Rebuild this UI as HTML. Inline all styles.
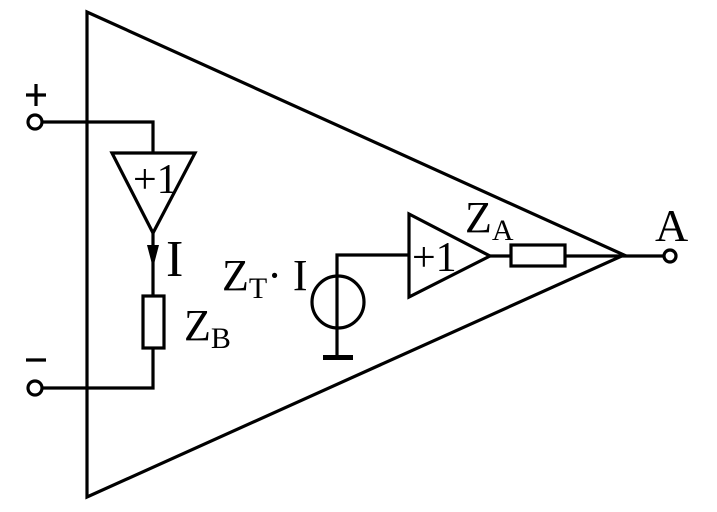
<!DOCTYPE html>
<html><head><style>body{margin:0;background:#fff}svg{display:block}</style></head><body>
<svg width="717" height="512" viewBox="0 0 717 512" xmlns="http://www.w3.org/2000/svg">
<g fill="none" stroke="#000" stroke-width="3.2">
<polygon points="87,12 87,497 624,255"/>
<circle cx="35" cy="122" r="7" fill="#fff"/>
<circle cx="35" cy="388" r="7" fill="#fff"/>
<polyline points="42,122 153,122 153,153"/>
<polygon points="112,153 195,153 153,233"/>
<line x1="153" y1="233" x2="153" y2="296"/>
<rect x="143" y="296" width="21" height="52"/>
<polyline points="153,348 153,388 42,388"/>
<line x1="26" y1="95" x2="46" y2="95"/>
<line x1="36" y1="84" x2="36" y2="106"/>
<line x1="26" y1="360" x2="46" y2="360"/>
<polyline points="337,357 337,255 409,255"/>
<circle cx="338" cy="302" r="26"/>
<polygon points="409,214 409,297 490,256"/>
<line x1="490" y1="256" x2="511" y2="256"/>
<rect x="511" y="245" width="54" height="21"/>
<line x1="565" y1="256" x2="664" y2="256"/>
<circle cx="670" cy="256" r="6" fill="#fff"/>
</g>
<polygon points="147,245 159,245 153,268" fill="#000"/>
<rect x="323" y="355" width="30" height="5" fill="#000"/>
<g style="font-family:'Liberation Serif',serif" fill="#000">
<text x="133" y="193" style="font-size:42px">+1</text>
<text x="412" y="271" style="font-size:42px">+1</text>
<text x="166" y="276" style="font-size:52px">I</text>
<text x="184" y="340" style="font-size:44px">Z<tspan style="font-size:30px" dy="8">B</tspan></text>
<text x="222" y="290" style="font-size:44px">Z<tspan style="font-size:30px" dy="8">T</tspan><tspan dy="-8">· I</tspan></text>
<text x="465" y="232" style="font-size:44px">Z<tspan style="font-size:30px" dy="8">A</tspan></text>
<text x="655" y="241" style="font-size:46px">A</text>
</g>
</svg>
</body></html>
